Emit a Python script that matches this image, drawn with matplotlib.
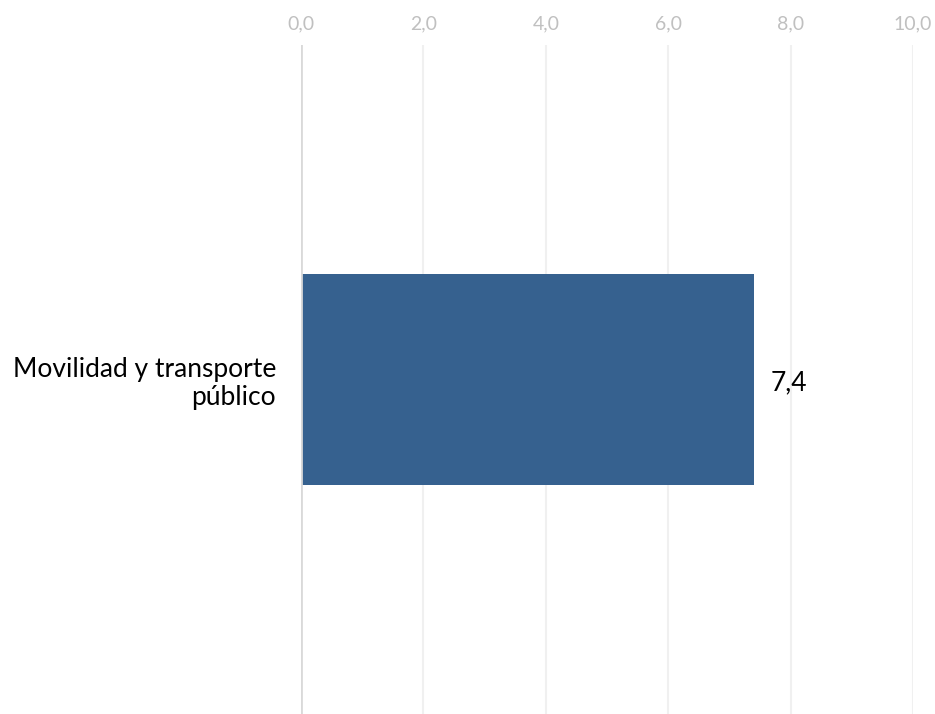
import matplotlib.pyplot as plt

plt.rcParams["font.family"] = ["Lato", "DejaVu Sans"]

categories = ["Movilidad y transporte\npúblico"]
values = [7.4]
ticks = [0, 2, 4, 6, 8, 10]
tick_labels = ["0,0", "2,0", "4,0", "6,0", "8,0", "10,0"]

fig = plt.figure(figsize=(9.35, 7.14), dpi=100)
ax = fig.add_axes([0.322, 0.0, 0.6545, 0.937])

ax.barh(categories, values, height=0.315, color="#36618f", zorder=3)

ax.set_xlim(0, 10)
ax.set_ylim(-0.5, 0.5)
ax.set_xticks(ticks)
ax.set_xticklabels(tick_labels)
ax.xaxis.tick_top()
ax.tick_params(axis="x", length=0, pad=9, labelsize=14, labelcolor="#c0c0c0")
ax.tick_params(axis="y", length=0, pad=18, labelsize=19)
for lbl in ax.get_yticklabels():
    lbl.set_horizontalalignment("right")
    lbl.set_linespacing(1.15)

ax.grid(axis="x", color="#f0f0f0", linewidth=1.5, zorder=0)
ax.axvline(0, color="#d9d9d9", linewidth=2, zorder=4)
for s in ax.spines.values():
    s.set_visible(False)

for i, v in enumerate(values):
    ax.text(v + 0.28, i - 0.005, f"{v:.1f}".replace(".", ","), va="center", ha="left", fontsize=19)

fig.savefig("out.png", dpi=100)
